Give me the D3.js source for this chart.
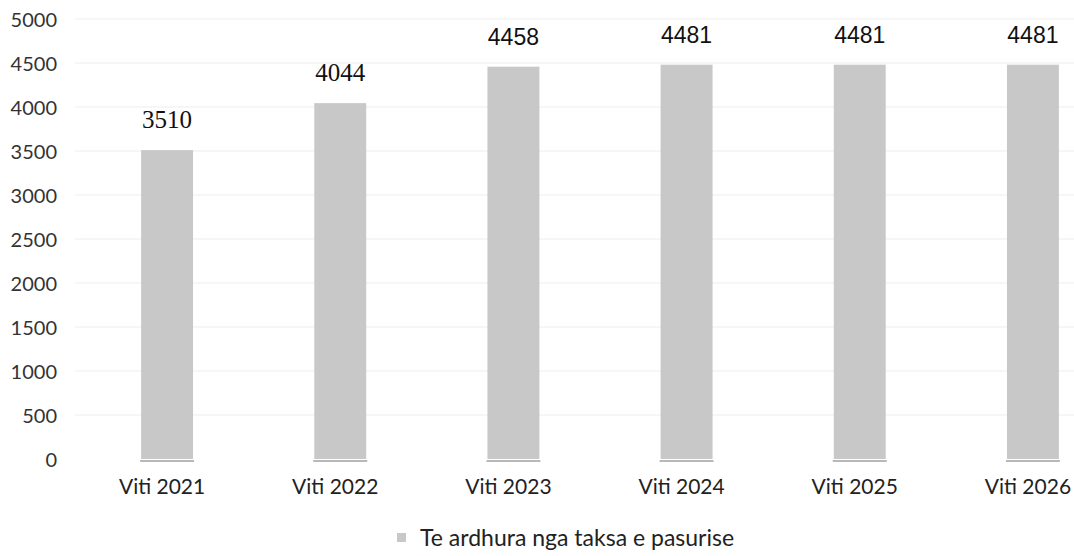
<!DOCTYPE html>
<html><head><meta charset="utf-8">
<script src="https://cdn.jsdelivr.net/npm/d3@7"></script>
<style>body{margin:0;background:#fff}svg{display:block}</style>
</head><body><svg id="c" width="1074" height="556"></svg>
<script>
const categories = ["Viti 2021","Viti 2022","Viti 2023","Viti 2024","Viti 2025","Viti 2026"];
const values = [3510,4044,4458,4481,4481,4481];
const yTicks = [0,500,1000,1500,2000,2500,3000,3500,4000,4500,5000];
const labelFonts = ["Liberation Serif","Liberation Serif","Liberation Sans","Liberation Sans","Liberation Sans","Liberation Sans"];
const seriesName = "Te ardhura nga taksa e pasurise";

const svg = d3.select("#c");
const x = d3.scaleBand().domain(categories).range([80.5,1119.5]).paddingInner(0.7).paddingOuter(0.35);
const y = d3.scaleLinear().domain([0,5000]).range([459,19]);

// gridlines
svg.append("g").selectAll("line").data(yTicks.slice(1)).join("line")
  .attr("x1",75).attr("x2",1074).attr("y1",d=>y(d)).attr("y2",d=>y(d))
  .attr("stroke","#f3f3f3").attr("stroke-width",1.5);

// y axis labels
const ya = svg.append("g").attr("transform","translate(57,1)")
  .call(d3.axisLeft(y).tickValues(yTicks).tickSize(0).tickPadding(0).tickFormat(d3.format("d")));
ya.select(".domain").remove();
ya.selectAll("text").attr("font-family","Lato, sans-serif").attr("font-size",20).attr("fill","#333");

// bars
svg.append("g").selectAll("rect").data(values).join("rect")
  .attr("x",(d,i)=>x(categories[i])).attr("width",x.bandwidth())
  .attr("y",d=>y(d)).attr("height",d=>y(0)-y(d))
  .attr("fill","#c8c8c8");

// baseline segments under bars
svg.append("g").selectAll("line").data(categories).join("line")
  .attr("x1",d=>x(d)-1).attr("x2",d=>x(d)+x.bandwidth()+1)
  .attr("y1",y(0)+2).attr("y2",y(0)+2).attr("stroke","#a0a0a0").attr("stroke-width",1.5);

// value labels
svg.append("g").selectAll("text").data(values).join("text")
  .attr("x",(d,i)=>x(categories[i])+x.bandwidth()/2)
  .attr("y",d=>y(d)-22)
  .attr("text-anchor","middle")
  .attr("font-family",(d,i)=>labelFonts[i])
  .attr("font-size",(d,i)=>i<2?25:23)
  .attr("fill","#111")
  .text(d=>d);

// x axis labels
const xa = svg.append("g").attr("transform",`translate(0,${y(0)})`)
  .call(d3.axisBottom(x).tickSize(0).tickPadding(20));
xa.select(".domain").remove();
xa.selectAll("text").attr("dx",-5).attr("font-family","Lato, sans-serif").attr("font-size",21).attr("fill","#222");

// legend
const lg = svg.append("g").attr("transform","translate(397,538)");
lg.append("rect").attr("x",0).attr("y",-5).attr("width",9).attr("height",9).attr("fill","#c8c8c8");
lg.append("text").attr("x",23).attr("y",0).attr("dy","0.35em")
  .attr("font-family","Lato, sans-serif").attr("font-size",23).attr("fill","#222").text(seriesName);
</script></body></html>
